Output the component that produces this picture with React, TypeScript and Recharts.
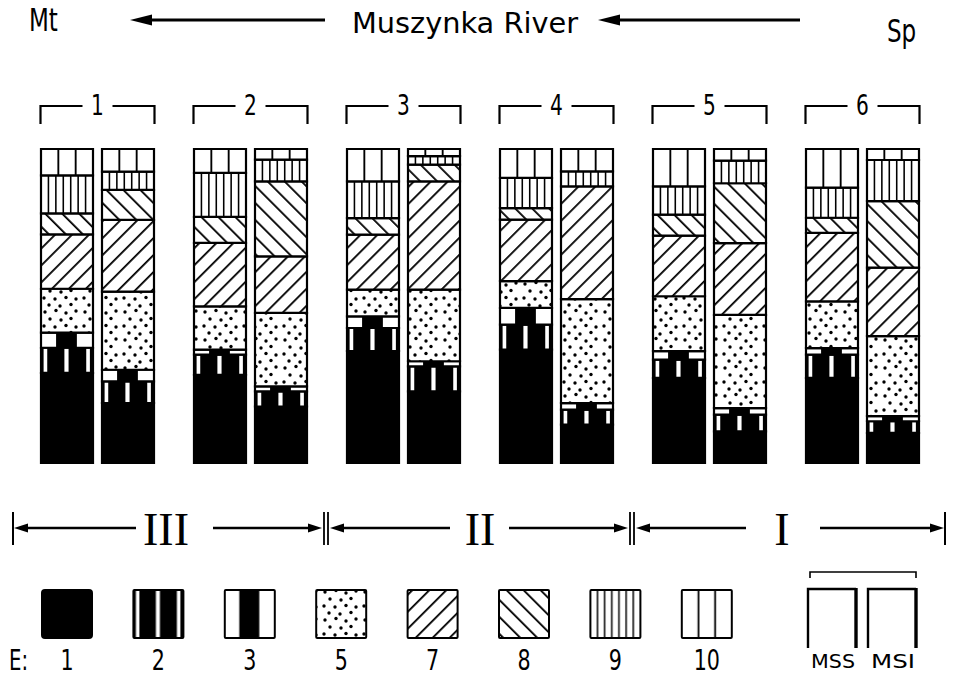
import React from 'react';
import { BarChart, Bar, XAxis, YAxis } from 'recharts';

// ---- categories ----
const sites = ['1', '2', '3', '4', '5', '6'];
const classes = ['1', '2', '3', '5', '7', '8', '9', '10'];
const zoneLabels = ['III', 'II', 'I'];
const profileLabels = ['MSS', 'MSI'];

// ---- MSS values (% of profile), per class, sites 1..6 ----
const mssE1 = [28.7, 28.1, 35.6, 36.1, 27.1, 27.1];
const mssE2 = [8.0, 6.4, 7.4, 8.0, 5.8, 7.4];
const mssE3 = [4.8, 1.6, 3.7, 5.3, 2.7, 2.1];
const mssE5 = [14.0, 13.8, 8.5, 8.5, 17.5, 14.9];
const mssE7 = [17.3, 20.2, 17.5, 19.6, 19.3, 21.8];
const mssE8 = [6.7, 8.3, 5.3, 3.7, 6.7, 4.8];
const mssE9 = [12.1, 14.0, 11.7, 9.6, 9.0, 9.6];
const mssE10 = [8.4, 7.6, 10.3, 9.2, 11.9, 12.3];

// ---- MSI values ----
const msiE1 = [19.1, 18.0, 22.8, 12.2, 10.1, 9.6];
const msiE2 = [6.9, 4.8, 8.0, 4.8, 5.3, 3.7];
const msiE3 = [3.7, 1.6, 1.6, 2.1, 2.1, 1.6];
const msiE5 = [24.9, 23.4, 22.8, 33.1, 29.7, 25.5];
const msiE7 = [22.8, 18.0, 34.5, 35.9, 22.8, 21.8];
const msiE8 = [9.6, 23.9, 5.3, 0, 19.1, 21.2];
const msiE9 = [5.8, 6.9, 2.7, 4.8, 7.2, 13.1];
const msiE10 = [7.2, 3.4, 2.3, 7.1, 3.7, 3.5];

const mssValues = [mssE1, mssE2, mssE3, mssE5, mssE7, mssE8, mssE9, mssE10];
const msiValues = [msiE1, msiE2, msiE3, msiE5, msiE7, msiE8, msiE9, msiE10];

const fills: Record<string, string> = {
  '1': '#000',
  '2': 'url(#p2)',
  '3': 'url(#p3)',
  '5': 'url(#p5)',
  '7': 'url(#p7)',
  '8': 'url(#p8)',
  '9': 'url(#p9)',
  '10': 'url(#p10)',
};

const data = sites.map((site, i) => {
  const row: Record<string, any> = { site };
  classes.forEach((c, k) => {
    row['MSS_' + c] = mssValues[k][i];
    row['MSI_' + c] = msiValues[k][i];
  });
  return row;
});

const FONT = "'DejaVu Sans Condensed', 'Liberation Sans Narrow', 'DejaVu Sans', sans-serif";
const SERIF = "'Liberation Serif', 'DejaVu Serif', serif";

// condensed text helper
const CText = ({ x, y, size, sx = 0.78, anchor = 'start', children, weight = 'normal' }: any) => (
  <text
    transform={`translate(${x},${y}) scale(${sx},1)`}
    textAnchor={anchor}
    fontSize={size}
    fontFamily={FONT}
    fontWeight={weight}
    fill="#000"
  >
    {children}
  </text>
);

const Patterns = () => (
  <svg width={0} height={0} style={{ position: 'absolute' }}>
    <defs>
      <pattern id="p2" patternUnits="objectBoundingBox" patternContentUnits="objectBoundingBox" width="1" height="1">
        <rect width="1" height="1" fill="#000" />
        <rect x="0.05" width="0.07" height="1" fill="#fff" />
        <rect x="0.45" width="0.08" height="1" fill="#fff" />
        <rect x="0.87" width="0.07" height="1" fill="#fff" />
      </pattern>
      <pattern id="p3" patternUnits="objectBoundingBox" patternContentUnits="objectBoundingBox" width="1" height="1">
        <rect width="1" height="1" fill="#fff" />
        <rect x="0.29" width="0.4" height="1" fill="#000" />
      </pattern>
      <pattern id="p5" patternUnits="userSpaceOnUse" width="40" height="28">
        <rect width="40" height="28" fill="#fff" />
        <circle cx="5" cy="4" r="1.7" fill="#000" />
        <circle cx="16" cy="2.5" r="1.7" fill="#000" />
        <circle cx="26" cy="5" r="1.7" fill="#000" />
        <circle cx="36" cy="3" r="1.7" fill="#000" />
        <circle cx="10" cy="11" r="1.7" fill="#000" />
        <circle cx="21" cy="12" r="1.7" fill="#000" />
        <circle cx="31" cy="10.5" r="1.7" fill="#000" />
        <circle cx="4" cy="18" r="1.7" fill="#000" />
        <circle cx="15" cy="19" r="1.7" fill="#000" />
        <circle cx="26" cy="17.5" r="1.7" fill="#000" />
        <circle cx="36" cy="19" r="1.7" fill="#000" />
        <circle cx="9" cy="25" r="1.7" fill="#000" />
        <circle cx="20" cy="26" r="1.7" fill="#000" />
        <circle cx="31" cy="24.5" r="1.7" fill="#000" />
      </pattern>
      <pattern id="p7" patternUnits="userSpaceOnUse" width="12" height="12" patternTransform="rotate(45)">
        <rect width="12" height="12" fill="#fff" />
        <rect x="0" width="1.8" height="12" fill="#000" />
      </pattern>
      <pattern id="p8" patternUnits="userSpaceOnUse" width="12" height="12" patternTransform="rotate(-45)">
        <rect width="12" height="12" fill="#fff" />
        <rect x="0" width="1.8" height="12" fill="#000" />
      </pattern>
      <pattern id="p9" patternUnits="objectBoundingBox" patternContentUnits="objectBoundingBox" width="1" height="1">
        <rect width="1" height="1" fill="#fff" />
        {[1, 2, 3, 4, 5, 6].map((k) => (
          <rect key={k} x={k / 7 - 0.015} width="0.03" height="1" fill="#000" />
        ))}
      </pattern>
      <pattern id="p10" patternUnits="objectBoundingBox" patternContentUnits="objectBoundingBox" width="1" height="1">
        <rect width="1" height="1" fill="#fff" />
        <rect x={1 / 3 - 0.018} width="0.036" height="1" fill="#000" />
        <rect x={2 / 3 - 0.018} width="0.036" height="1" fill="#000" />
      </pattern>
    </defs>
  </svg>
);

const GroupTick = (props: any) => {
  const { x, payload } = props;
  const half = 57;
  const ly = 106;
  return (
    <g>
      <path d={`M${x - half},${ly + 18} V${ly} H${x - 15}`} stroke="#000" strokeWidth={2.2} fill="none" />
      <path d={`M${x + 15},${ly} H${x + half} V${ly + 18}`} stroke="#000" strokeWidth={2.2} fill="none" />
      <CText x={x} y={ly + 9} size={28} sx={0.8} anchor="middle">
        {payload.value}
      </CText>
    </g>
  );
};

const Arrow = ({ x1, x2, y, w = 2.5, hl = 14, hh = 4.5 }: any) => {
  const dir = x2 > x1 ? 1 : -1;
  return (
    <g>
      <line x1={x1} y1={y} x2={x2 - dir * hl} y2={y} stroke="#000" strokeWidth={w} />
      <polygon points={`${x2},${y} ${x2 - dir * hl},${y - hh} ${x2 - dir * hl},${y + hh}`} fill="#000" />
    </g>
  );
};

const Overlay = () => {
  const zy = 528;
  const zoneCenters = [166, 480, 782];
  const legendY = 590;
  return (
    <svg width={954} height={678} style={{ position: 'absolute', left: 0, top: 0, pointerEvents: 'none' }}>
      {/* header */}
      <CText x={29} y={31} size={32} sx={0.8}>Mt</CText>
      <Arrow x1={325} x2={130} y={20} w={3} hl={22} hh={5.5} />
      <text x={352} y={33} fontSize={29} fontFamily={FONT} textLength={226} lengthAdjust="spacingAndGlyphs">Muszynka River</text>
      <Arrow x1={800} x2={598} y={20} w={3} hl={22} hh={5.5} />
      <CText x={887} y={42} size={32} sx={0.8}>Sp</CText>

      {/* zones */}
      <line x1={13} y1={zy - 16} x2={13} y2={zy + 17} stroke="#000" strokeWidth={2} />
      <Arrow x1={136} x2={14} y={zy} />
      <Arrow x1={213} x2={322} y={zy} />
      <line x1={324} y1={zy - 16} x2={324} y2={zy + 17} stroke="#000" strokeWidth={1.8} />
      <line x1={328} y1={zy - 16} x2={328} y2={zy + 17} stroke="#000" strokeWidth={1.8} />
      <Arrow x1={450} x2={330} y={zy} />
      <Arrow x1={509} x2={628} y={zy} />
      <line x1={630} y1={zy - 16} x2={630} y2={zy + 17} stroke="#000" strokeWidth={1.8} />
      <line x1={634} y1={zy - 16} x2={634} y2={zy + 17} stroke="#000" strokeWidth={1.8} />
      <Arrow x1={746} x2={636} y={zy} />
      <Arrow x1={820} x2={944} y={zy} />
      <line x1={945} y1={zy - 16} x2={945} y2={zy + 17} stroke="#000" strokeWidth={2} />
      {zoneLabels.map((z, i) => (
        <text key={z} x={zoneCenters[i]} y={zy + 17} textAnchor="middle" fontSize={46} fontFamily={SERIF} fill="#000">
          {z}
        </text>
      ))}

      {/* legend */}
      <CText x={9} y={670} size={28} sx={0.78}>E:</CText>
      {classes.map((c, k) => {
        const x = 42 + k * 91.4;
        return (
          <g key={c}>
            <rect x={x} y={legendY} width={50} height={48} fill={fills[c]} stroke="#000" strokeWidth={2} rx={c === '1' ? 3 : 1} />
            <CText x={x + 25} y={670} size={28} sx={0.82} anchor="middle">
              {c}
            </CText>
          </g>
        );
      })}

      {/* profile key */}
      <path d="M810,578 V572 H916 V578" stroke="#000" strokeWidth={1.6} fill="none" />
      {profileLabels.map((p, i) => {
        const x = 808 + i * 60;
        return (
          <g key={p}>
            <path d={`M${x},648 V589 H${x + 48}`} stroke="#000" strokeWidth={2.4} fill="none" />
            <line x1={x + 48} y1={588} x2={x + 48} y2={648} stroke="#000" strokeWidth={3.4} />
            <text x={x + 25} y={668} textAnchor="middle" fontSize={19} fontFamily={FONT} fill="#000" textLength={44} lengthAdjust="spacingAndGlyphs">
              {p}
            </text>
          </g>
        );
      })}
    </svg>
  );
};

export default function App() {
  return (
    <div style={{ position: 'absolute', left: 0, top: 0, width: 954, height: 678, background: '#fff' }}>
      <Patterns />
      <div style={{ position: 'absolute', left: 0, top: 0 }}>
        <BarChart
          width={954}
          height={678}
          data={data}
          margin={{ top: 109, right: 15, bottom: 215, left: 21 }}
          barSize={52}
          barGap={9}
        >
          <XAxis dataKey="site" orientation="top" height={40} axisLine={false} tickLine={false} tick={(p: any) => <GroupTick {...p} />} interval={0} />
          <YAxis hide domain={[0, 100]} />
          {classes.map((c) => (
            <Bar key={'MSS_' + c} dataKey={'MSS_' + c} stackId="MSS" fill={fills[c]} stroke="#000" strokeWidth={2.2} isAnimationActive={false} />
          ))}
          {classes.map((c) => (
            <Bar key={'MSI_' + c} dataKey={'MSI_' + c} stackId="MSI" fill={fills[c]} stroke="#000" strokeWidth={2.2} isAnimationActive={false} />
          ))}
        </BarChart>
      </div>
      <Overlay />
    </div>
  );
}
